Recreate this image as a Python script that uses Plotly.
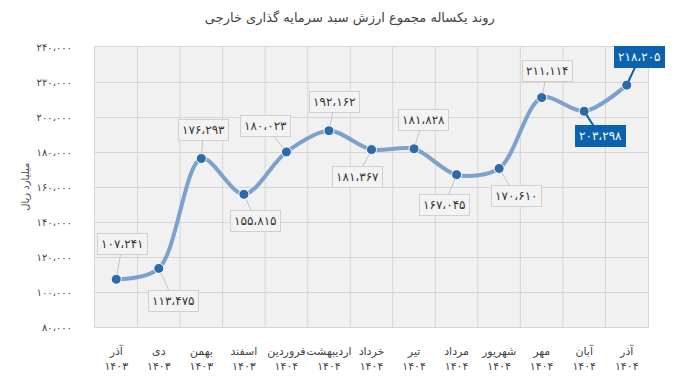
import plotly.graph_objects as go

months = ["آذر", "دی", "بهمن", "اسفند", "فروردین", "اردیبهشت", "خرداد",
          "تیر", "مرداد", "شهریور", "مهر", "آبان", "آذر"]
years = ["۱۴۰۳", "۱۴۰۳", "۱۴۰۳", "۱۴۰۳", "۱۴۰۴", "۱۴۰۴", "۱۴۰۴",
         "۱۴۰۴", "۱۴۰۴", "۱۴۰۴", "۱۴۰۴", "۱۴۰۴", "۱۴۰۴"]
values = [107241, 113475, 176293, 155815, 180023, 192162, 181367,
          181828, 167045, 170610, 211114, 203298, 218205]
y_ticks = [80000, 100000, 120000, 140000, 160000, 180000, 200000, 220000, 240000]
highlighted = [False] * 11 + [True, True]
# label offsets (pixels) relative to each point
label_dx = [6, 15, 2, 12, -21, 6, -14, 9, -12, 17, 6, 16, 13]
label_dy = [-35, 33, -28, 27, -26, -29, 27, -29, 30, 28, -27, 25, -28]

title = "روند یکساله مجموع ارزش سبد سرمایه گذاری خارجی"
y_title = "میلیارد ریال"

FA = str.maketrans("0123456789,", "۰۱۲۳۴۵۶۷۸۹،")


def fa_num(v):
    return f"{v:,}".translate(FA)


categories = [f"{m}<br>{y}" for m, y in zip(months, years)]
FONT = "DejaVu Sans"

fig = go.Figure()
fig.add_trace(go.Scatter(
    x=list(range(len(values))), y=values, mode="lines+markers",
    line=dict(color="#7ca1ca", width=4, shape="spline", smoothing=0.9),
    marker=dict(color="#2c6aa8", size=10, line=dict(color="#ffffff", width=1)),
    hoverinfo="skip", showlegend=False,
))

for i, v in enumerate(values):
    if highlighted[i]:
        fig.add_annotation(
            x=i, y=v, ax=label_dx[i], ay=label_dy[i], xref="x", yref="y",
            text=fa_num(v), showarrow=True, arrowhead=0, arrowwidth=2,
            arrowcolor="#0b63ad", bgcolor="#0b63ad", bordercolor="#0b63ad",
            borderwidth=1, borderpad=3, standoff=4,
            font=dict(family=FONT, size=12, color="#ffffff"),
        )
    else:
        fig.add_annotation(
            x=i, y=v, ax=label_dx[i], ay=label_dy[i], xref="x", yref="y",
            text=fa_num(v), showarrow=True, arrowhead=0, arrowwidth=1,
            arrowcolor="#c4c4c4", bgcolor="#f3f3f3", bordercolor="#d0d0d0",
            borderwidth=1, borderpad=3, standoff=4,
            font=dict(family=FONT, size=12, color="#333333"),
        )

fig.add_annotation(
    xref="paper", yref="paper", x=-0.127, y=0.5, text=y_title, textangle=-90,
    showarrow=False, xanchor="center", yanchor="middle",
    font=dict(family=FONT, size=10, color="#444444"),
)

# page body has an 8px margin, so the figure is sized/offset to compensate
fig.update_layout(
    width=692, height=382,
    margin=dict(l=87, r=52, t=39, b=63),
    paper_bgcolor="#ffffff", plot_bgcolor="#f1f1f1",
    font=dict(family=FONT, color="#444444"),
    title=dict(text=title, x=0.494, xanchor="center", y=0.976, yanchor="middle",
               font=dict(family=FONT, size=13, color="#444444")),
    xaxis=dict(
        tickmode="array", tickvals=list(range(len(values))), ticktext=categories,
        range=[-0.5, len(values) - 0.5], showgrid=False, zeroline=False,
        tickfont=dict(family=FONT, size=11, color="#444444"), tickangle=0,
        ticks="", ticklabelstandoff=14, showline=True, linecolor="#d6d6d6",
        mirror=True, automargin=False,
    ),
    yaxis=dict(
        range=[80000, 240000], tickmode="array", tickvals=y_ticks,
        ticktext=[fa_num(t) for t in y_ticks],
        showgrid=True, gridcolor="#d6d6d6", gridwidth=1, zeroline=False,
        tickfont=dict(family=FONT, size=10, color="#444444"),
        ticklabelstandoff=20, showline=True, linecolor="#d6d6d6", mirror=True,
        automargin=False,
    ),
)

# vertical grid lines at category boundaries
for k in range(1, len(values)):
    fig.add_shape(type="line", xref="x", yref="paper", x0=k - 0.5, x1=k - 0.5,
                  y0=0, y1=1, line=dict(color="#d6d6d6", width=1), layer="below")

fig.write_html("out.html")
